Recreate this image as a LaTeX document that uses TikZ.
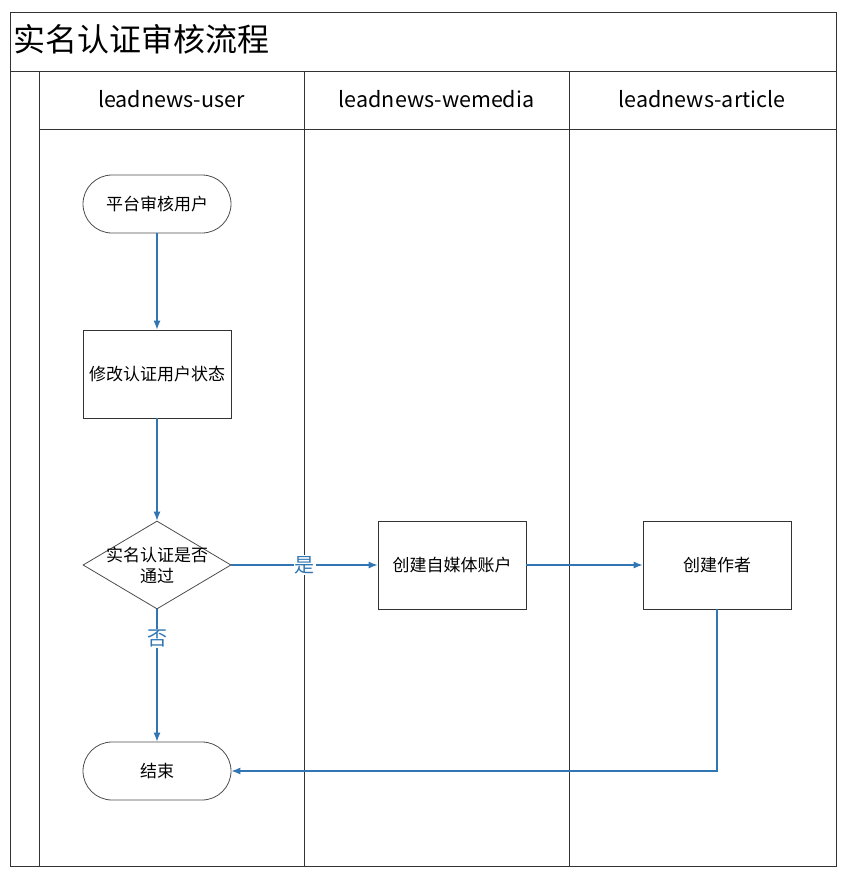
\documentclass[tikz,border=0pt]{standalone}
\usepackage{fontspec}
\setmainfont{Noto Sans CJK SC}
\usepackage{xcolor}
\usepackage{tikz}
\usetikzlibrary{arrows.meta,positioning,shapes.geometric}
\definecolor{flowA}{RGB}{49,118,178}
\colorlet{gridA}{black!80}

\tikzset{
  lanehead/.style={font=\fontsize{21.5}{24}\selectfont},
  terminal/.style={draw=black!70, line width=0.8pt, rounded corners=29pt, minimum width=148pt, minimum height=58pt, inner sep=0pt, font=\fontsize{17}{20}\selectfont},
  process/.style={draw=black!80, line width=0.8pt, minimum width=148pt, minimum height=88pt, inner sep=0pt, font=\fontsize{17}{20}\selectfont},
  decision/.style={draw=black!70, line width=0.8pt, diamond, aspect=1.68, minimum width=148pt, minimum height=88pt, inner sep=-5pt, align=center, font=\fontsize{17}{21}\selectfont},
  flow/.style={flowA, line width=1.1pt, -{Latex[length=9pt,width=7pt]}},
  flowlabel/.style={fill=white, text=flowA, inner sep=1pt, font=\fontsize{20}{22}\selectfont}
}

\begin{document}
\begin{tikzpicture}[x=1pt,y=-1pt]
      \useasboundingbox (0,0) rectangle (845,876);

      % Pool frame and lanes
      \draw[gridA, line width=0.8pt] (10,12) rectangle (836,866);
      \draw[gridA, line width=0.8pt] (10,71) -- (836,71);
      \draw[gridA, line width=0.8pt] (39,71) -- (39,866);
      \draw[gridA, line width=0.8pt] (304,71) -- (304,866);
      \draw[gridA, line width=0.8pt] (569,71) -- (569,866);
      \draw[gridA, line width=0.8pt] (39,129) -- (836,129);

      % Title and lane headers
      \node[anchor=west, inner sep=0pt, font=\fontsize{32}{36}\selectfont] (title) at (13,39) {实名认证审核流程};
      \node[lanehead] (hUser) at (171.5,99) {leadnews-user};
      \node[lanehead] (hWemedia) at (436.5,99) {leadnews-wemedia};
      \node[lanehead] (hArticle) at (702,99) {leadnews-article};

      % Flow nodes
      \node[terminal] (start) at (157,204) {平台审核用户};
      \node[process] (modify) at (157,374) {修改认证用户状态};
      \node[decision] (check) at (157,565) {实名认证是否\\通过};
      \node[terminal] (finish) at (157,771) {结束};
      \node[process] (wemedia) at (452,565) {创建自媒体账户};
      \node[process] (author) at (717,565) {创建作者};

      % Connectors
      \draw[flow] (start) -- (modify);
      \draw[flow] (modify) -- (check);
      \draw[flow] (check) -- node[flowlabel, pos=0.5] (yes) {是} (wemedia);
      \draw[flow] (check) -- node[flowlabel, pos=0.22] (no) {否} (finish);
      \draw[flow] (wemedia) -- (author);
      \draw[flow] (author.south) |- (finish.east);
    \end{tikzpicture}
\end{document}
